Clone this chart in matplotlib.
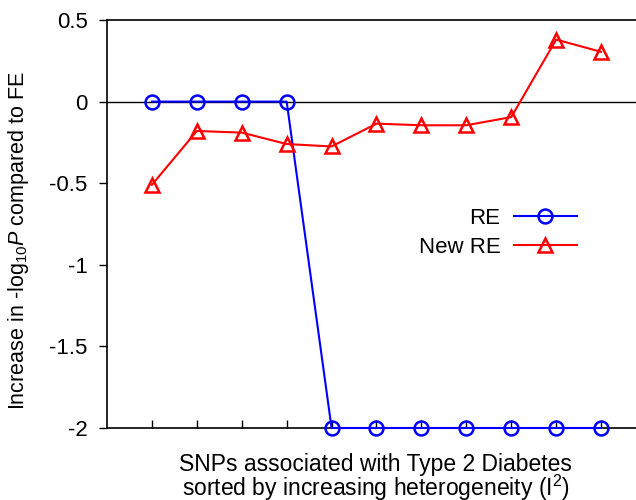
import matplotlib
matplotlib.use("Agg")
import matplotlib.pyplot as plt

plt.rcParams['font.family'] = ['Liberation Sans', 'DejaVu Sans']
plt.rcParams['mathtext.fontset'] = 'custom'
plt.rcParams['mathtext.rm'] = 'Liberation Sans'
plt.rcParams['mathtext.it'] = 'Liberation Sans:italic'

snp_index = [1, 2, 3, 4, 5, 6, 7, 8, 9, 10, 11]
re_values = [0, 0, 0, 0, -2, -2, -2, -2, -2, -2, -2]
new_re_values = [-0.51, -0.18, -0.19, -0.26, -0.275, -0.135, -0.145, -0.145, -0.095, 0.38, 0.305]
y_ticks = [-2, -1.5, -1, -0.5, 0, 0.5]
y_tick_labels = ['-2', '-1.5', '-1', '-0.5', '0', '0.5']

W, H = 636, 500
fig = plt.figure(figsize=(W / 100, H / 100), dpi=100)
ax = fig.add_axes([107 / W, 1 - 428 / H, 539 / W, 408 / H])

ax.axhline(0, color='black', lw=1.0, zorder=1)
ax.plot(snp_index, re_values, color='#0000ff', lw=1.5, marker='o', ms=10,
        mfc='none', mec='#0000ff', mew=1.8, label='RE', clip_on=False, zorder=3)
ax.plot(snp_index, new_re_values, color='#ff0000', lw=1.5, marker='^', ms=10,
        mfc='none', mec='#ff0000', mew=1.8, label='New RE', clip_on=False, zorder=3)

ax.set_xlim(0, 12)
ax.set_ylim(-2, 0.5)
ax.set_yticks(y_ticks)
ax.set_yticklabels(y_tick_labels)
ax.set_xticks(snp_index)
ax.set_xticklabels([])
ax.tick_params(axis='x', direction='in', length=6, width=1.0)
ax.tick_params(axis='y', direction='out', length=6, width=1.0, labelsize=16, pad=8)
for s in ['left', 'bottom', 'top', 'right']:
    ax.spines[s].set_linewidth(1.2)

ax.set_ylabel(r'Increase in -log$_{10}$$\mathit{P}$ compared to FE', fontsize=15.5)
ax.yaxis.set_label_coords((31 - 107) / 539, (428 - 241) / 408)
ax.set_xlabel('SNPs associated with Type 2 Diabetes\nsorted by increasing heterogeneity (I$^2$)',
              fontsize=16.5, linespacing=0.85)
ax.xaxis.set_label_coords((375.5 - 107) / 539, (428 - 453) / 408)
ax.xaxis.label.set_verticalalignment('top')

leg = fig.legend(loc='upper right', bbox_to_anchor=(577 / W, 1 - 208 / H),
                 frameon=False, markerfirst=False, fontsize=16, handlelength=2.85,
                 handletextpad=0.6, labelspacing=0.34, borderpad=0, borderaxespad=0)

fig.savefig('out.png', dpi=100)
